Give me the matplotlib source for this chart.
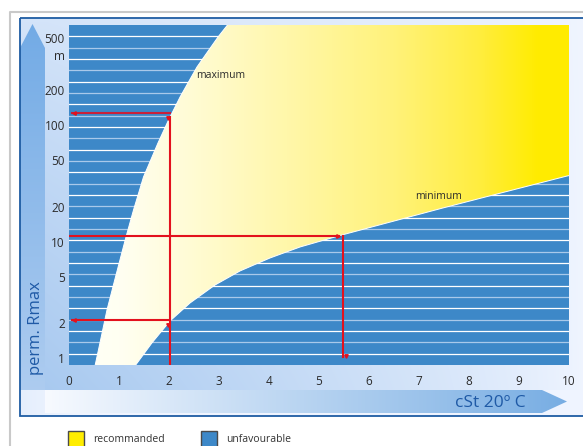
import numpy as np
import matplotlib
matplotlib.use("Agg")
import matplotlib.pyplot as plt
from matplotlib.patches import Polygon, Rectangle
from matplotlib.colors import LinearSegmentedColormap

plt.rcParams['font.family'] = ['Open Sans', 'DejaVu Sans']

# boundary curves (viscosity cSt, permissible Rmax)
max_x = [0.52, 0.62, 0.76, 0.93, 1.14, 1.29, 1.49, 1.78, 1.99, 2.22, 2.39, 2.56, 2.77, 2.98, 3.17]
max_y = [0.854, 1.35, 2.59, 4.97, 10.98, 18.7, 36.0, 70.6, 111, 175, 236, 318, 428, 575, 730]
min_x = [1.32, 1.66, 2.02, 2.42, 2.92, 3.42, 4.02, 4.62, 5.42, 6.02, 7.48, 8.56, 9.96, 10.0]
min_y = [0.854, 1.35, 2.08, 2.97, 4.24, 5.60, 7.24, 9.00, 11.3, 13.25, 19.5, 25.7, 36.7, 37.0]

# reading examples (red lines)
ex1_x = 2.02
ex1_ylow, ex1_yhigh = 2.12, 128
ex2_x = 5.48
ex2_y = 11.2

x_ticks = [0, 1, 2, 3, 4, 5, 6, 7, 8, 9, 10]
y_ticks = [1, 2, 5, 10, 20, 50, 100, 200, 500]
y_labels = ["1", "2", "5", "10", "20", "50", "100", "200", "500\nm"]

legend_labels = ["recommanded", "unfavourable"]
legend_colors = ["#ffed00", "#3d88c8"]

W, H = 583, 446
fig = plt.figure(figsize=(W / 100, H / 100), dpi=100)
fig.patch.set_facecolor("white")

# ---- decorative background in pixel coordinates
bg = fig.add_axes([0, 0, 1, 1], zorder=0)
bg.set_xlim(0, W)
bg.set_ylim(H, 0)
bg.axis("off")

bg.plot([10, 10, 600], [450, 11.5, 11.5], color="#c9c9c9", lw=1.5)

xs = np.linspace(20, 583, 563)
ys = np.linspace(18, 416, 398)
X, Y = np.meshgrid(xs, ys)
light = np.array([0.94, 0.96, 1.0])
mid = np.array([0.66, 0.79, 0.94])
t = np.clip(1 - (X - 45) / 538, 0, 1) * (0.3 + 0.7 * np.clip((Y - 18) / 372, 0, 1))
t = t ** 0.8
t[Y > 390] = 0.15 * np.clip(1 - (X[Y > 390] - 20) / 60, 0, 1)
panel = light + (mid - light) * t[..., None]
bg.imshow(panel, extent=(20, 583, 416, 18), origin="upper", aspect="auto", zorder=1)

# left arrow
gl = np.linspace(0, 1, 200)[:, None, None]
top_c = np.array([0.45, 0.67, 0.90])
bot_c = np.array([0.68, 0.80, 0.94])
larr = top_c + (bot_c - top_c) * gl
larr = np.repeat(larr, 2, axis=1)
im = bg.imshow(larr, extent=(20, 45, 390, 24), origin="upper", aspect="auto", zorder=2)
poly = Polygon([(20, 390), (20, 48), (32.5, 24), (45, 48), (45, 390)], closed=True,
               transform=bg.transData, facecolor="none", edgecolor="none")
bg.add_patch(poly)
im.set_clip_path(poly)

# bottom arrow
gb = np.linspace(0, 1, 300)[None, :, None]
left_c = np.array([0.97, 0.98, 1.0])
right_c = np.array([0.47, 0.68, 0.89])
barr = left_c + (right_c - left_c) * gb
barr = np.repeat(barr, 2, axis=0)
im2 = bg.imshow(barr, extent=(45, 567, 413, 390), origin="upper", aspect="auto", zorder=2)
poly2 = Polygon([(45, 390), (542, 390), (567, 401.5), (542, 413), (45, 413)], closed=True,
                transform=bg.transData, facecolor="none", edgecolor="none")
bg.add_patch(poly2)
im2.set_clip_path(poly2)

bg.add_patch(Rectangle((19.5, 18), 600, 397.5, fill=False, edgecolor="#1e5ca3", lw=1.3, zorder=3))

bg.text(36, 328, "perm. Rmax", rotation=90, ha="center", va="center",
        fontsize=12, color="#1f5aa6", zorder=4)
bg.text(490, 403, "cSt 20º C", ha="center", va="center",
        fontsize=12.5, color="#1f5aa6", zorder=4)

# legend
for i, (lab, col) in enumerate(zip(legend_labels, legend_colors)):
    x0 = 68 + i * 133
    bg.add_patch(Rectangle((x0, 431), 16, 17, facecolor=col, edgecolor="#4a4a4a", lw=1, zorder=4))
    bg.text(x0 + 25, 439, lab, ha="left", va="center", fontsize=7.5, color="#333333", zorder=4)

# ---- main chart
ax = fig.add_axes([69 / W, (H - 365) / H, 500 / W, 340 / H], zorder=1)
ax.set_facecolor("#3d88c8")
ax.set_yscale("log")
ax.set_xlim(0, 10)
ax.set_ylim(0.87, 730)

for k in range(1, 30):
    f = 1 - k / 30
    ax.plot([0, 1], [f, f], transform=ax.transAxes,
            color="white" if k % 2 else "#a9c9ea", lw=0.9, zorder=1)

cmap = LinearSegmentedColormap.from_list("yel", [
    (0.00, (1.0, 1.0, 0.97)),
    (0.10, (1.0, 1.0, 0.95)),
    (0.20, (1.0, 0.99, 0.87)),
    (0.42, (1.0, 0.97, 0.68)),
    (0.65, (1.0, 0.95, 0.48)),
    (0.82, (1.0, 0.93, 0.25)),
    (0.94, (1.0, 0.925, 0.0)),
    (1.00, (1.0, 0.925, 0.0))])
grad = ax.imshow(np.linspace(0, 1, 256)[None, :], cmap=cmap, extent=(0, 1, 0, 1),
                 transform=ax.transAxes, aspect="auto", zorder=2)
region = list(zip(max_x, max_y)) + [(12, max_y[-1] * 1.2), (12, min_y[-1])] + list(zip(min_x, min_y))[::-1]
ypoly = Polygon(region, closed=True, transform=ax.transData, facecolor="none", edgecolor="none")
ax.add_patch(ypoly)
grad.set_clip_path(ypoly)

ax.plot(max_x, max_y, color="white", lw=0.7, zorder=3)
ax.plot(min_x, min_y, color="white", lw=0.7, zorder=3)

red = "#e3111d"
ax.plot([0.06, ex1_x], [ex1_yhigh, ex1_yhigh], color="#c8203a", lw=1.5, zorder=4)
ax.plot([ex1_x, ex1_x], [ex1_yhigh * 0.92, 0.8], color=red, lw=1.5, zorder=4)
ax.plot([0.06, ex1_x], [ex1_ylow, ex1_ylow], color=red, lw=1.5, zorder=4)
ax.plot([0, ex2_x - 0.08], [ex2_y, ex2_y], color=red, lw=1.5, zorder=4)
ax.plot([ex2_x, ex2_x], [ex2_y, 1.02], color=red, lw=1.5, zorder=4)
for mx, my, m in [(0.1, ex1_yhigh, "<"), (0.1, ex1_ylow, "<"), (ex1_x - 0.05, ex1_yhigh * 0.9, "v"),
                  (ex1_x - 0.05, ex1_ylow * 0.9, "v"), (ex2_x - 0.1, ex2_y, ">"), (ex2_x + 0.05, 1.03, "v")]:
    ax.plot(mx, my, marker=m, ms=2.5, color=red, zorder=5)

ax.text(2.54, 266, "maximum", ha="left", va="center", fontsize=7.5, color="#2b2b2b", zorder=6)
ax.text(6.92, 24.7, "minimum", ha="left", va="center", fontsize=7.5, color="#2b2b2b", zorder=6)

ax.set_xticks(x_ticks)
ax.set_xticklabels([str(v) for v in x_ticks])
ax.set_yticks(y_ticks)
ax.set_yticklabels(y_labels)
ax.minorticks_off()
ax.tick_params(axis="both", length=0, labelsize=8.5, labelcolor="#2b2b2b")
ax.tick_params(axis="x", pad=7)
ax.tick_params(axis="y", pad=3)
for lab in ax.get_yticklabels():
    lab.set_linespacing(1.45)
for s in ax.spines.values():
    s.set_visible(False)

plt.savefig("out.png", dpi=100)
